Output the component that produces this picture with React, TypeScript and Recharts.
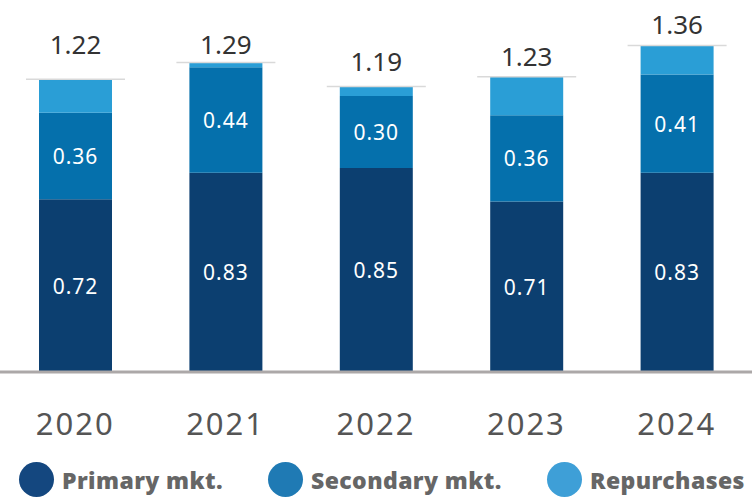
import React from 'react';
import { BarChart, Bar, XAxis, YAxis, LabelList } from 'recharts';

const years = ['2020', '2021', '2022', '2023', '2024'];
const primary = [0.72, 0.83, 0.85, 0.71, 0.83];
const secondary = [0.36, 0.44, 0.30, 0.36, 0.41];
const repurchases = [0.14, 0.02, 0.04, 0.16, 0.12];
const totals = [1.22, 1.29, 1.19, 1.23, 1.36];

// how far each total label sits above its bar (px), as in the original artwork
const labelLift = [35, 18, 25, 21, 22];

const series = [
  { key: 'primary', label: 'Primary mkt.', color: '#0c3f70', legend: '#14477f' },
  { key: 'secondary', label: 'Secondary mkt.', color: '#0570ac', legend: '#1f7ab4' },
  { key: 'repurchases', label: 'Repurchases', color: '#2a9ed6', legend: '#3e9fd7' },
];

const data = years.map((y, i) => ({
  year: y,
  primary: primary[i],
  secondary: secondary[i],
  repurchases: repurchases[i],
  total: totals[i],
}));

const FONT = '"Noto Sans", sans-serif';

const inside = (props: any) => {
  const { x, y, width, height, value } = props;
  return (
    <text
      x={x + width / 2}
      y={y + height / 2}
      textAnchor="middle"
      dominantBaseline="central"
      fill="#fff"
      fontSize={21}
      letterSpacing={1}
      fontFamily={FONT}
    >
      {Number(value).toFixed(2)}
    </text>
  );
};

const topLabel = (props: any) => {
  const { x, y, width, index } = props;
  return (
    <g>
      <line x1={x - 13} x2={x + width + 13} y1={y} y2={y} stroke="#d9d9d9" strokeWidth={1.5} />
      <text
        x={x + width / 2}
        y={y - labelLift[index]}
        textAnchor="middle"
        dominantBaseline="central"
        fill="#333"
        fontSize={26}
        fontFamily={FONT}
      >
        {totals[index].toFixed(2)}
      </text>
    </g>
  );
};

export default function App() {
  return (
    <div style={{ position: 'absolute', left: 0, top: 0, width: 752, height: 497, background: '#fff' }}>
      <BarChart
        width={752}
        height={497}
        data={data}
        margin={{ top: 12, right: 0, left: 0, bottom: 0 }}
      >
        <XAxis
          dataKey="year"
          height={125}
          axisLine={{ stroke: '#aca8a8', strokeWidth: 3 }}
          tickLine={false}
          tickMargin={35}
          tick={{ fontSize: 31, fill: '#555', fontFamily: FONT, letterSpacing: 2 }}
        />
        <YAxis hide domain={[0, 1.5]} />
        <Bar dataKey="primary" stackId="a" fill={series[0].color} barSize={73} isAnimationActive={false}>
          <LabelList dataKey="primary" content={inside} />
        </Bar>
        <Bar dataKey="secondary" stackId="a" fill={series[1].color} barSize={73} isAnimationActive={false}>
          <LabelList dataKey="secondary" content={inside} />
        </Bar>
        <Bar dataKey="repurchases" stackId="a" fill={series[2].color} barSize={73} isAnimationActive={false}>
          <LabelList dataKey="repurchases" content={topLabel} />
        </Bar>
      </BarChart>
      <div style={{ position: 'absolute', left: 0, top: 462, width: 752, height: 35 }}>
        {series.map((s, i) => (
          <div
            key={s.key}
            style={{
              position: 'absolute',
              left: [19, 268, 547][i],
              top: 0,
              display: 'flex',
              alignItems: 'center',
              height: 35,
            }}
          >
            <span style={{ width: 35, height: 35, borderRadius: '50%', background: s.legend, display: 'inline-block' }} />
            <span
              style={{
                marginLeft: 8,
                fontFamily: FONT,
                fontWeight: 900,
                fontSize: 23,
                letterSpacing: 0.4,
                color: '#666',
                whiteSpace: 'nowrap',
              }}
            >
              {s.label}
            </span>
          </div>
        ))}
      </div>
    </div>
  );
}
